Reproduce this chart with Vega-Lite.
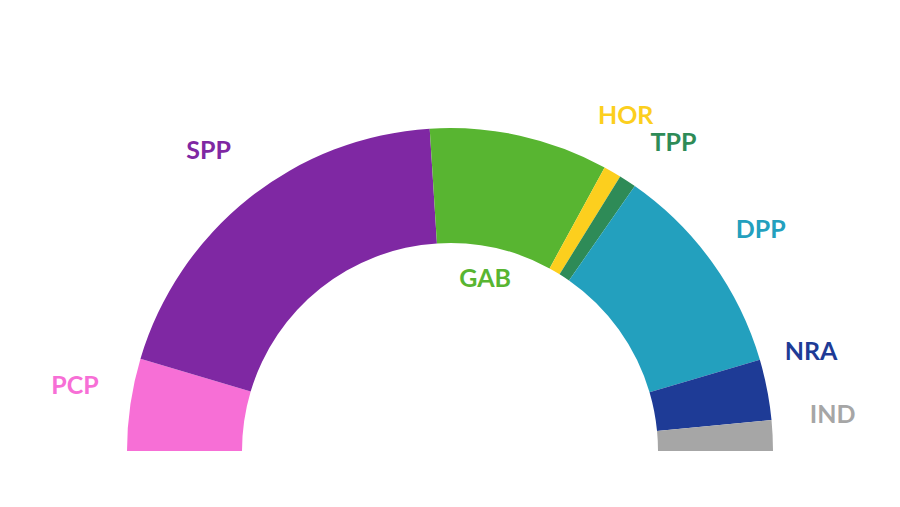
{
  "$schema": "https://vega.github.io/schema/vega-lite/v6.json",
  "autosize": {"type": "fit", "contains": "padding"},
  "width": 900,
  "height": 507,
  "padding": 0,
  "background": "white",
  "config": {"view": {"stroke": null}},
  "data": {
    "values": [
      {"party": "PCP", "share": 16.6},
      {"party": "SPP", "share": 69.8},
      {"party": "GAB", "share": 32.2},
      {"party": "HOR", "share": 3.2},
      {"party": "TPP", "share": 3.1},
      {"party": "DPP", "share": 38.7},
      {"party": "NRA", "share": 10.9},
      {"party": "IND", "share": 5.5}
    ]
  },
  "transform": [{"window": [{"op": "row_number", "as": "seq"}]}],
  "encoding": {
    "theta": {
      "field": "share",
      "type": "quantitative",
      "stack": true,
      "scale": {"range": [-1.5707963, 1.5707963]}
    },
    "order": {"field": "seq", "type": "quantitative"},
    "color": {
      "field": "party",
      "type": "nominal",
      "legend": null,
      "scale": {
        "domain": ["PCP", "SPP", "GAB", "HOR", "TPP", "DPP", "NRA", "IND"],
        "range": ["#f76fd6", "#7f28a3", "#58b531", "#fccf1e", "#2e8b57", "#23a0be", "#1e3b96", "#a6a6a6"]
      }
    }
  },
  "layer": [
    {
      "mark": {
        "type": "arc",
        "innerRadius": 208,
        "outerRadius": 323,
        "x": {"expr": "width / 2"},
        "y": {"expr": "height - 56"}
      }
    },
    {
      "mark": {
        "type": "text",
        "font": "Lato",
        "fontWeight": "bold",
        "fontSize": 25,
        "align": "center",
        "baseline": "middle",
        "x": {"expr": "width / 2"},
        "y": {"expr": "height - 56"},
        "radius": {"expr": "datum.party == 'GAB' ? 176 : 383"},
        "dx": {"expr": "datum.party == 'HOR' ? -17 : datum.party == 'TPP' ? 13 : datum.party == 'NRA' ? -15 : datum.party == 'PCP' ? 4 : datum.party == 'SPP' ? -3 : datum.party == 'GAB' ? -3 : 0"},
        "dy": {"expr": "datum.party == 'HOR' ? -4 : datum.party == 'TPP' ? 12 : datum.party == 'NRA' ? -26 : datum.party == 'IND' ? -18 : datum.party == 'PCP' ? -10 : datum.party == 'DPP' ? 3 : 0"}
      },
      "encoding": {"text": {"field": "party", "type": "nominal"}}
    }
  ]
}
